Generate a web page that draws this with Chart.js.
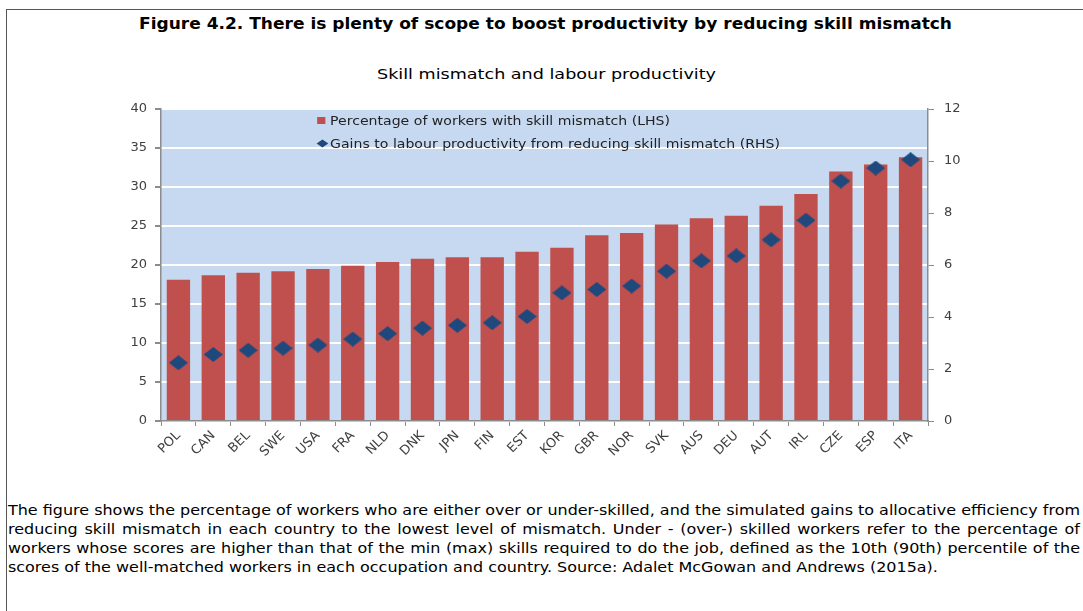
<!DOCTYPE html>
<html>
<head>
<meta charset="utf-8">
<script src="https://cdn.jsdelivr.net/npm/chart.js@4"></script>
<style>
  body { margin: 0; background: #fff; font-family: "DejaVu Sans", sans-serif; color: #000; }
  #page { position: relative; width: 1083px; height: 611px; overflow: hidden; }
  #frame { position: absolute; left: 6px; top: 9px; right: -2px; bottom: -2px; border-top: 1.5px solid #555; border-left: 1.5px solid #555; }
  .fit { display: inline-block; white-space: nowrap; transform-origin: 0 0; }
  #title { position: absolute; left: 139px; top: 15px; font-weight: bold; font-size: 15px; }
  #subtitle { position: absolute; left: 377px; top: 66px; font-size: 14.5px; }
  #wrap { position: absolute; left: 0; top: 0; width: 1083px; height: 480px; }
  #legend { position: absolute; left: 316px; top: 110px; font-size: 12px; color: #222; line-height: 23px; }
  #legend .mk { display: inline-block; width: 12px; vertical-align: middle; }
  #note { position: absolute; left: 8px; top: 501px; font-size: 14px; line-height: 19px; transform-origin: 0 0; }
  #note div { text-align: justify; text-align-last: justify; white-space: nowrap; }
  #note div.last { text-align-last: left; }
  #note span { white-space: nowrap; }
</style>
</head>
<body>
<div id="page">
  <div id="frame"></div>
  <div id="title"><span class="fit" data-w="813">Figure 4.2. There is plenty of scope to boost productivity by reducing skill mismatch</span></div>
  <div id="subtitle"><span class="fit" data-w="339">Skill mismatch and labour productivity</span></div>
  <div id="wrap"><canvas id="chart"></canvas></div>
  <div id="legend"><div class="fit" data-w="464">
    <div><span class="mk"><svg width="9" height="9"><rect x="1" y="1" width="7" height="7" fill="#c0504d"/></svg></span>Percentage of workers with skill mismatch (LHS)</div>
    <div><span class="mk"><svg width="11" height="9"><polygon points="5.5,0.5 10.5,4.5 5.5,8.5 0.5,4.5" fill="#1f497d"/></svg></span>Gains to labour productivity from reducing skill mismatch (RHS)</div>
  </div></div>
  <div id="note">
    <div><span>The figure shows the percentage of workers who are either over or under-skilled, and the simulated gains to allocative efficiency from</span></div>
    <div><span>reducing skill mismatch in each country to the lowest level of mismatch. Under - (over-) skilled workers refer to the percentage of</span></div>
    <div><span>workers whose scores are higher than that of the min (max) skills required to do the job, defined as the 10th (90th) percentile of the</span></div>
    <div class="last"><span>scores of the well-matched workers in each occupation and country. Source: Adalet McGowan and Andrews (2015a).</span></div>
  </div>
</div>
<script>
// data
const countries = ['POL', 'CAN', 'BEL', 'SWE', 'USA', 'FRA', 'NLD', 'DNK', 'JPN', 'FIN', 'EST',
                   'KOR', 'GBR', 'NOR', 'SVK', 'AUS', 'DEU', 'AUT', 'IRL', 'CZE', 'ESP', 'ITA'];
const mismatchShare = [18.1, 18.7, 19.0, 19.2, 19.5, 19.9, 20.4, 20.8, 21.0, 21.0, 21.7,
                       22.2, 23.8, 24.1, 25.2, 26.0, 26.3, 27.6, 29.1, 32.0, 32.9, 33.8];
const productivityGains = [2.24, 2.56, 2.72, 2.80, 2.92, 3.15, 3.36, 3.57, 3.68, 3.78, 4.02,
                           4.93, 5.06, 5.19, 5.76, 6.16, 6.35, 6.97, 7.72, 9.23, 9.73, 10.05];
const lhsTicks = { min: 0, max: 40, step: 5 };
const rhsTicks = { min: 0, max: 12, step: 2 };

// the original text is a bit stretched sideways, so scale it to the measured widths
document.querySelectorAll('.fit').forEach(el => {
    const s = el.dataset.w / el.getBoundingClientRect().width;
    el.style.transform = 'scaleX(' + s + ')';
});
(function fitNote() {
    const note = document.getElementById('note');
    const spans = [...note.querySelectorAll('span')];
    const w = spans.map(sp => sp.getBoundingClientRect().width);
    // last line ends near x=943, the others run to the right margin
    let s = 935 / w[3];
    for (let i = 0; i < 3; i++) s = Math.min(s, 1072 / w[i]);
    note.style.width = (1072 / s) + 'px';
    note.style.transform = 'scaleX(' + s + ')';
})();

// slightly wide diamond marker
function diamond(w, h, color) {
    const c = document.createElement('canvas');
    c.width = w; c.height = h;
    const g = c.getContext('2d');
    g.fillStyle = color;
    g.beginPath();
    g.moveTo(w / 2, 0); g.lineTo(w, h / 2); g.lineTo(w / 2, h); g.lineTo(0, h / 2);
    g.closePath();
    g.fill();
    return c;
}

const plotBg = {
    id: 'plotBg',
    beforeDraw(chart) {
        const { ctx, chartArea: a } = chart;
        ctx.save();
        ctx.fillStyle = '#c6d9f1';
        ctx.fillRect(a.left, a.top, a.right - a.left, a.bottom - a.top);
        ctx.restore();
    }
};

const axisGrey = '#8c8c8c';
const tickFont = { family: 'DejaVu Sans', size: 13 };

const ctx = document.getElementById('chart').getContext('2d');
new Chart(ctx, {
    data: {
        labels: countries,
        datasets: [{
            type: 'line',
            label: 'Gains to labour productivity from reducing skill mismatch (RHS)',
            data: productivityGains,
            yAxisID: 'y1',
            showLine: false,
            pointStyle: diamond(19, 15, '#1f497d'),
            backgroundColor: '#1f497d',
            borderColor: '#1f497d',
            order: 1
        }, {
            type: 'bar',
            label: 'Percentage of workers with skill mismatch (LHS)',
            data: mismatchShare,
            yAxisID: 'y',
            backgroundColor: '#c0504d',
            categoryPercentage: 1,
            barPercentage: 0.67,
            order: 2
        }]
    },
    options: {
        responsive: true,
        maintainAspectRatio: false,
        animation: false,
        layout: { padding: { top: 109, right: 115, left: 0, bottom: 0 } },
        plugins: {
            legend: { display: false },
            tooltip: { enabled: false }
        },
        scales: {
            x: {
                offset: true,
                grid: { offset: true, drawOnChartArea: false, tickColor: axisGrey, tickLength: 5 },
                border: { color: axisGrey, width: 1.5 },
                ticks: { color: '#404040', font: tickFont, minRotation: 45, maxRotation: 45, padding: 2 },
                afterFit(s) { s.height = 59; }
            },
            y: {
                position: 'left',
                min: lhsTicks.min, max: lhsTicks.max,
                ticks: { stepSize: lhsTicks.step, color: '#404040', font: { family: 'DejaVu Sans', size: 13 }, padding: 8 },
                grid: { color: '#ffffff', lineWidth: 2, tickColor: axisGrey, tickLength: 6 },
                border: { color: axisGrey, width: 1.5 },
                afterFit(s) { s.width = 161; }
            },
            y1: {
                position: 'right',
                min: rhsTicks.min, max: rhsTicks.max,
                ticks: { stepSize: rhsTicks.step, color: '#404040', font: { family: 'DejaVu Sans', size: 13 }, padding: 10 },
                grid: { drawOnChartArea: false, tickColor: axisGrey, tickLength: 6 },
                border: { color: axisGrey, width: 1.5 },
                afterFit(s) { s.width = 40; }
            }
        }
    },
    plugins: [plotBg]
});
</script>
</body>
</html>
